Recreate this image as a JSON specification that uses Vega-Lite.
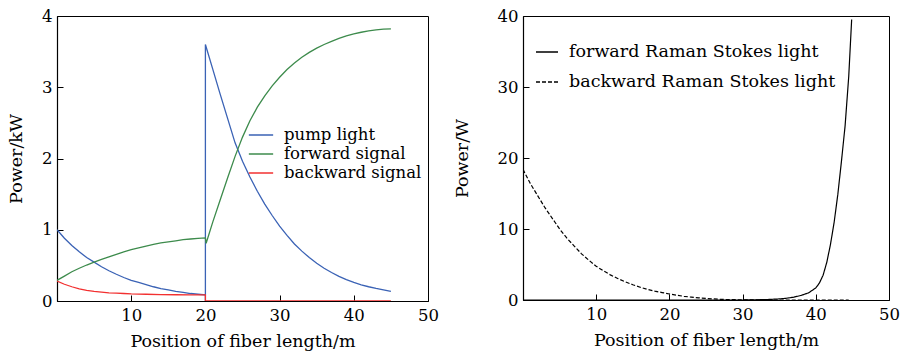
{
  "$schema": "https://vega.github.io/schema/vega-lite/v6.json",
  "background": "white",
  "padding": {"left": 7, "top": 7, "right": 0, "bottom": 0},
  "spacing": 13,
  "config": {
    "font": "DejaVu Serif",
    "view": {"stroke": "black", "strokeWidth": 1},
    "axis": {
      "grid": false,
      "domainColor": "black",
      "domainWidth": 1.2,
      "tickColor": "black",
      "tickSize": -6,
      "labelFontSize": 16.5,
      "labelColor": "black",
      "labelFlush": false,
      "titleFontSize": 17.5,
      "titleFontWeight": "normal",
      "titleColor": "black",
      "labelFont": "DejaVu Serif",
      "titleFont": "DejaVu Serif"
    },
    "axisX": {"labelPadding": 12, "titlePadding": 9},
    "axisY": {"labelPadding": 11, "titlePadding": 16},
    "legend": {
      "labelFont": "DejaVu Serif",
      "labelColor": "black",
      "labelLimit": 0,
      "symbolType": "stroke",
      "symbolStrokeWidth": 1.5,
      "title": null
    }
  },
  "datasets": {
    "left": [
      {"i": 0, "s": "pump light", "x": 0, "y": 1.0},
      {"i": 1, "s": "pump light", "x": 1, "y": 0.88},
      {"i": 2, "s": "pump light", "x": 2, "y": 0.78},
      {"i": 3, "s": "pump light", "x": 3, "y": 0.69},
      {"i": 4, "s": "pump light", "x": 4, "y": 0.61},
      {"i": 5, "s": "pump light", "x": 5, "y": 0.545},
      {"i": 6, "s": "pump light", "x": 6, "y": 0.48},
      {"i": 7, "s": "pump light", "x": 7, "y": 0.425},
      {"i": 8, "s": "pump light", "x": 8, "y": 0.375},
      {"i": 9, "s": "pump light", "x": 9, "y": 0.33},
      {"i": 10, "s": "pump light", "x": 10, "y": 0.29},
      {"i": 11, "s": "pump light", "x": 11, "y": 0.26},
      {"i": 12, "s": "pump light", "x": 12, "y": 0.23},
      {"i": 13, "s": "pump light", "x": 13, "y": 0.2},
      {"i": 14, "s": "pump light", "x": 14, "y": 0.175},
      {"i": 15, "s": "pump light", "x": 15, "y": 0.155},
      {"i": 16, "s": "pump light", "x": 16, "y": 0.135},
      {"i": 17, "s": "pump light", "x": 17, "y": 0.12},
      {"i": 18, "s": "pump light", "x": 18, "y": 0.105},
      {"i": 19, "s": "pump light", "x": 19, "y": 0.095},
      {"i": 20, "s": "pump light", "x": 20, "y": 0.085},
      {"i": 21, "s": "pump light", "x": 20, "y": 0},
      {"i": 22, "s": "pump light", "x": 20, "y": 3.6},
      {"i": 23, "s": "pump light", "x": 21, "y": 3.25},
      {"i": 24, "s": "pump light", "x": 22, "y": 2.9},
      {"i": 25, "s": "pump light", "x": 23, "y": 2.56},
      {"i": 26, "s": "pump light", "x": 24, "y": 2.22},
      {"i": 27, "s": "pump light", "x": 25, "y": 1.96},
      {"i": 28, "s": "pump light", "x": 26, "y": 1.74},
      {"i": 29, "s": "pump light", "x": 27, "y": 1.54},
      {"i": 30, "s": "pump light", "x": 28, "y": 1.36},
      {"i": 31, "s": "pump light", "x": 29, "y": 1.2},
      {"i": 32, "s": "pump light", "x": 30, "y": 1.05},
      {"i": 33, "s": "pump light", "x": 31, "y": 0.92},
      {"i": 34, "s": "pump light", "x": 32, "y": 0.8},
      {"i": 35, "s": "pump light", "x": 33, "y": 0.7},
      {"i": 36, "s": "pump light", "x": 34, "y": 0.61},
      {"i": 37, "s": "pump light", "x": 35, "y": 0.53},
      {"i": 38, "s": "pump light", "x": 36, "y": 0.46},
      {"i": 39, "s": "pump light", "x": 37, "y": 0.4},
      {"i": 40, "s": "pump light", "x": 38, "y": 0.345},
      {"i": 41, "s": "pump light", "x": 39, "y": 0.3},
      {"i": 42, "s": "pump light", "x": 40, "y": 0.26},
      {"i": 43, "s": "pump light", "x": 41, "y": 0.228},
      {"i": 44, "s": "pump light", "x": 42, "y": 0.2},
      {"i": 45, "s": "pump light", "x": 43, "y": 0.176},
      {"i": 46, "s": "pump light", "x": 44, "y": 0.155},
      {"i": 47, "s": "pump light", "x": 45, "y": 0.135},

      {"i": 0, "s": "forward signal", "x": 0, "y": 0.29},
      {"i": 1, "s": "forward signal", "x": 1, "y": 0.35},
      {"i": 2, "s": "forward signal", "x": 2, "y": 0.41},
      {"i": 3, "s": "forward signal", "x": 3, "y": 0.46},
      {"i": 4, "s": "forward signal", "x": 4, "y": 0.505},
      {"i": 5, "s": "forward signal", "x": 5, "y": 0.545},
      {"i": 6, "s": "forward signal", "x": 6, "y": 0.583},
      {"i": 7, "s": "forward signal", "x": 7, "y": 0.62},
      {"i": 8, "s": "forward signal", "x": 8, "y": 0.655},
      {"i": 9, "s": "forward signal", "x": 9, "y": 0.69},
      {"i": 10, "s": "forward signal", "x": 10, "y": 0.72},
      {"i": 11, "s": "forward signal", "x": 11, "y": 0.745},
      {"i": 12, "s": "forward signal", "x": 12, "y": 0.77},
      {"i": 13, "s": "forward signal", "x": 13, "y": 0.795},
      {"i": 14, "s": "forward signal", "x": 14, "y": 0.815},
      {"i": 15, "s": "forward signal", "x": 15, "y": 0.83},
      {"i": 16, "s": "forward signal", "x": 16, "y": 0.845},
      {"i": 17, "s": "forward signal", "x": 17, "y": 0.86},
      {"i": 18, "s": "forward signal", "x": 18, "y": 0.87},
      {"i": 19, "s": "forward signal", "x": 19, "y": 0.88},
      {"i": 20, "s": "forward signal", "x": 20, "y": 0.885},
      {"i": 21, "s": "forward signal", "x": 20.1, "y": 0.81},
      {"i": 22, "s": "forward signal", "x": 21, "y": 1.11},
      {"i": 23, "s": "forward signal", "x": 22, "y": 1.42},
      {"i": 24, "s": "forward signal", "x": 23, "y": 1.73},
      {"i": 25, "s": "forward signal", "x": 24, "y": 2.03},
      {"i": 26, "s": "forward signal", "x": 25, "y": 2.3},
      {"i": 27, "s": "forward signal", "x": 26, "y": 2.53},
      {"i": 28, "s": "forward signal", "x": 27, "y": 2.72},
      {"i": 29, "s": "forward signal", "x": 28, "y": 2.88},
      {"i": 30, "s": "forward signal", "x": 29, "y": 3.02},
      {"i": 31, "s": "forward signal", "x": 30, "y": 3.14},
      {"i": 32, "s": "forward signal", "x": 31, "y": 3.25},
      {"i": 33, "s": "forward signal", "x": 32, "y": 3.34},
      {"i": 34, "s": "forward signal", "x": 33, "y": 3.42},
      {"i": 35, "s": "forward signal", "x": 34, "y": 3.49},
      {"i": 36, "s": "forward signal", "x": 35, "y": 3.55},
      {"i": 37, "s": "forward signal", "x": 36, "y": 3.6},
      {"i": 38, "s": "forward signal", "x": 37, "y": 3.645},
      {"i": 39, "s": "forward signal", "x": 38, "y": 3.685},
      {"i": 40, "s": "forward signal", "x": 39, "y": 3.72},
      {"i": 41, "s": "forward signal", "x": 40, "y": 3.75},
      {"i": 42, "s": "forward signal", "x": 41, "y": 3.772},
      {"i": 43, "s": "forward signal", "x": 42, "y": 3.79},
      {"i": 44, "s": "forward signal", "x": 43, "y": 3.805},
      {"i": 45, "s": "forward signal", "x": 44, "y": 3.815},
      {"i": 46, "s": "forward signal", "x": 45, "y": 3.82},

      {"i": 0, "s": "backward signal", "x": 0, "y": 0.28},
      {"i": 1, "s": "backward signal", "x": 1, "y": 0.235},
      {"i": 2, "s": "backward signal", "x": 2, "y": 0.2},
      {"i": 3, "s": "backward signal", "x": 3, "y": 0.17},
      {"i": 4, "s": "backward signal", "x": 4, "y": 0.15},
      {"i": 5, "s": "backward signal", "x": 5, "y": 0.135},
      {"i": 6, "s": "backward signal", "x": 6, "y": 0.125},
      {"i": 7, "s": "backward signal", "x": 7, "y": 0.115},
      {"i": 8, "s": "backward signal", "x": 8, "y": 0.11},
      {"i": 9, "s": "backward signal", "x": 9, "y": 0.105},
      {"i": 10, "s": "backward signal", "x": 10, "y": 0.1},
      {"i": 11, "s": "backward signal", "x": 12, "y": 0.095},
      {"i": 12, "s": "backward signal", "x": 14, "y": 0.09},
      {"i": 13, "s": "backward signal", "x": 16, "y": 0.088},
      {"i": 14, "s": "backward signal", "x": 18, "y": 0.086},
      {"i": 15, "s": "backward signal", "x": 20, "y": 0.085},
      {"i": 16, "s": "backward signal", "x": 20, "y": 0},
      {"i": 17, "s": "backward signal", "x": 30, "y": 0},
      {"i": 18, "s": "backward signal", "x": 45, "y": 0}
    ],
    "right": [
      {"i": 0, "s": "forward Raman Stokes light", "x": 0, "y": 0},
      {"i": 1, "s": "forward Raman Stokes light", "x": 10, "y": 0},
      {"i": 2, "s": "forward Raman Stokes light", "x": 20, "y": 0},
      {"i": 3, "s": "forward Raman Stokes light", "x": 30, "y": 0},
      {"i": 4, "s": "forward Raman Stokes light", "x": 33, "y": 0.05},
      {"i": 5, "s": "forward Raman Stokes light", "x": 35, "y": 0.15},
      {"i": 6, "s": "forward Raman Stokes light", "x": 36, "y": 0.25},
      {"i": 7, "s": "forward Raman Stokes light", "x": 37, "y": 0.4},
      {"i": 8, "s": "forward Raman Stokes light", "x": 38, "y": 0.65},
      {"i": 9, "s": "forward Raman Stokes light", "x": 39, "y": 1.0},
      {"i": 10, "s": "forward Raman Stokes light", "x": 40, "y": 1.7},
      {"i": 11, "s": "forward Raman Stokes light", "x": 40.5, "y": 2.4},
      {"i": 12, "s": "forward Raman Stokes light", "x": 41, "y": 3.5},
      {"i": 13, "s": "forward Raman Stokes light", "x": 41.5, "y": 5.3},
      {"i": 14, "s": "forward Raman Stokes light", "x": 42, "y": 7.8},
      {"i": 15, "s": "forward Raman Stokes light", "x": 42.5, "y": 10.9},
      {"i": 16, "s": "forward Raman Stokes light", "x": 43, "y": 14.8},
      {"i": 17, "s": "forward Raman Stokes light", "x": 43.5, "y": 19.5},
      {"i": 18, "s": "forward Raman Stokes light", "x": 44, "y": 24.5},
      {"i": 19, "s": "forward Raman Stokes light", "x": 44.5, "y": 31.5},
      {"i": 20, "s": "forward Raman Stokes light", "x": 44.9, "y": 39.5},

      {"i": 0, "s": "backward Raman Stokes light", "x": 0, "y": 18.4},
      {"i": 1, "s": "backward Raman Stokes light", "x": 1, "y": 16.4},
      {"i": 2, "s": "backward Raman Stokes light", "x": 2, "y": 14.7},
      {"i": 3, "s": "backward Raman Stokes light", "x": 3, "y": 13.0},
      {"i": 4, "s": "backward Raman Stokes light", "x": 4, "y": 11.5},
      {"i": 5, "s": "backward Raman Stokes light", "x": 5, "y": 10.0},
      {"i": 6, "s": "backward Raman Stokes light", "x": 6, "y": 8.7},
      {"i": 7, "s": "backward Raman Stokes light", "x": 7, "y": 7.6},
      {"i": 8, "s": "backward Raman Stokes light", "x": 8, "y": 6.5},
      {"i": 9, "s": "backward Raman Stokes light", "x": 9, "y": 5.6},
      {"i": 10, "s": "backward Raman Stokes light", "x": 10, "y": 4.75},
      {"i": 11, "s": "backward Raman Stokes light", "x": 11, "y": 4.1},
      {"i": 12, "s": "backward Raman Stokes light", "x": 12, "y": 3.5},
      {"i": 13, "s": "backward Raman Stokes light", "x": 13, "y": 3.0},
      {"i": 14, "s": "backward Raman Stokes light", "x": 14, "y": 2.55},
      {"i": 15, "s": "backward Raman Stokes light", "x": 15, "y": 2.15},
      {"i": 16, "s": "backward Raman Stokes light", "x": 16, "y": 1.8},
      {"i": 17, "s": "backward Raman Stokes light", "x": 17, "y": 1.5},
      {"i": 18, "s": "backward Raman Stokes light", "x": 18, "y": 1.25},
      {"i": 19, "s": "backward Raman Stokes light", "x": 19, "y": 1.05},
      {"i": 20, "s": "backward Raman Stokes light", "x": 20, "y": 0.85},
      {"i": 21, "s": "backward Raman Stokes light", "x": 21, "y": 0.68},
      {"i": 22, "s": "backward Raman Stokes light", "x": 22, "y": 0.52},
      {"i": 23, "s": "backward Raman Stokes light", "x": 23, "y": 0.4},
      {"i": 24, "s": "backward Raman Stokes light", "x": 24, "y": 0.3},
      {"i": 25, "s": "backward Raman Stokes light", "x": 25, "y": 0.22},
      {"i": 26, "s": "backward Raman Stokes light", "x": 26, "y": 0.15},
      {"i": 27, "s": "backward Raman Stokes light", "x": 27, "y": 0.1},
      {"i": 28, "s": "backward Raman Stokes light", "x": 28, "y": 0.06},
      {"i": 29, "s": "backward Raman Stokes light", "x": 30, "y": 0.02},
      {"i": 30, "s": "backward Raman Stokes light", "x": 35, "y": 0},
      {"i": 31, "s": "backward Raman Stokes light", "x": 40, "y": 0},
      {"i": 32, "s": "backward Raman Stokes light", "x": 44.5, "y": 0}
    ]
  },
  "hconcat": [
    {
      "width": 371,
      "height": 285,
      "data": {"name": "left"},
      "mark": {"type": "line", "strokeWidth": 1.3, "clip": true},
      "encoding": {
        "x": {
          "field": "x", "type": "quantitative",
          "scale": {"domain": [0, 50], "nice": false},
          "axis": {"title": "Position of fiber length/m", "values": [10, 20, 30, 40, 50]}
        },
        "y": {
          "field": "y", "type": "quantitative",
          "scale": {"domain": [0, 4], "nice": false},
          "axis": {"title": "Power/kW", "values": [0, 1, 2, 3, 4]}
        },
        "color": {
          "field": "s", "type": "nominal",
          "scale": {
            "domain": ["pump light", "forward signal", "backward signal"],
            "range": ["#3a62b5", "#3d8b4c", "#f23030"]
          },
          "legend": {
            "orient": "none", "legendX": 194, "legendY": 109,
            "symbolType": "M-1.35,0H1.35",
            "symbolSize": 324, "rowPadding": 0, "labelOffset": 13,
            "labelFontSize": 16.5
          }
        },
        "order": {"field": "i", "type": "quantitative"}
      }
    },
    {
      "width": 366,
      "height": 284,
      "data": {"name": "right"},
      "mark": {"type": "line", "strokeWidth": 1.2, "color": "black", "clip": true},
      "encoding": {
        "x": {
          "field": "x", "type": "quantitative",
          "scale": {"domain": [0, 50], "nice": false},
          "axis": {"title": "Position of fiber length/m", "values": [10, 20, 30, 40, 50]}
        },
        "y": {
          "field": "y", "type": "quantitative",
          "scale": {"domain": [0, 40], "nice": false},
          "axis": {"title": "Power/W", "values": [0, 10, 20, 30, 40], "titlePadding": 26}
        },
        "strokeDash": {
          "field": "s", "type": "nominal",
          "scale": {
            "domain": ["forward Raman Stokes light", "backward Raman Stokes light"],
            "range": [[1, 0], [4, 2]]
          },
          "legend": {
            "orient": "none", "legendX": 478, "legendY": 24,
            "symbolSize": 484, "rowPadding": 9, "labelOffset": 10,
            "labelFontSize": 17.5
          }
        },
        "order": {"field": "i", "type": "quantitative"}
      }
    }
  ]
}
